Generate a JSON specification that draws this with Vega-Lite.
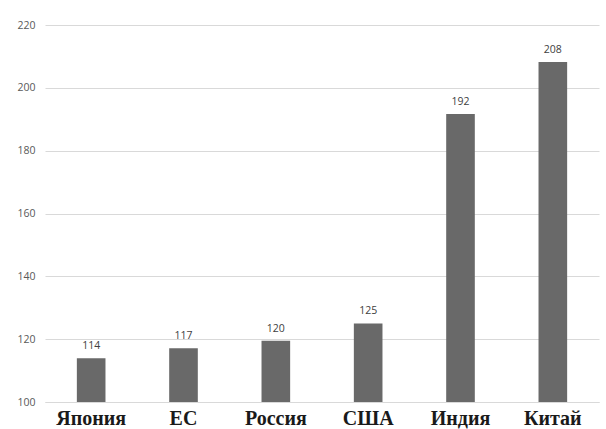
{
  "$schema": "https://vega.github.io/schema/vega-lite/v6.json",
  "width": 554,
  "height": 377,
  "autosize": {"type": "none"},
  "padding": {"left": 45, "top": 25, "right": 7, "bottom": 27},
  "background": "white",
  "config": {"view": {"stroke": null}},
  "data": {"values": [
    {"country": "Япония", "value": 113.9},
    {"country": "ЕС", "value": 117.1},
    {"country": "Россия", "value": 119.5},
    {"country": "США", "value": 125.0},
    {"country": "Индия", "value": 191.7},
    {"country": "Китай", "value": 208.2}
  ]},
  "encoding": {
    "x": {"field": "country", "type": "nominal", "sort": null,
      "scale": {"paddingInner": 0.69, "paddingOuter": 0.345},
      "axis": {"title": null, "labelAngle": 0, "labelFont": "Liberation Serif", "labelFontWeight": "bold",
        "labelFontSize": 20, "labelColor": "#1a1a1a", "labelPadding": 6, "ticks": false,
        "domainColor": "#d9d9d9", "domainWidth": 1}},
    "y": {"field": "value", "type": "quantitative",
      "scale": {"domain": [100, 220], "nice": false, "zero": false},
      "axis": {"title": null, "values": [100, 120, 140, 160, 180, 200, 220], "ticks": false, "domain": false,
        "gridColor": "#d9d9d9", "labelFont": "Open Sans", "labelFontSize": 10.5, "labelColor": "#595959",
        "labelPadding": 10}}
  },
  "layer": [
    {"mark": {"type": "bar", "color": "#696969", "clip": true}},
    {"mark": {"type": "text", "dy": -12, "font": "Open Sans", "fontSize": 10.5, "color": "#404040"},
      "encoding": {"text": {"field": "value", "type": "quantitative", "format": ".0f"}}}
  ]
}
